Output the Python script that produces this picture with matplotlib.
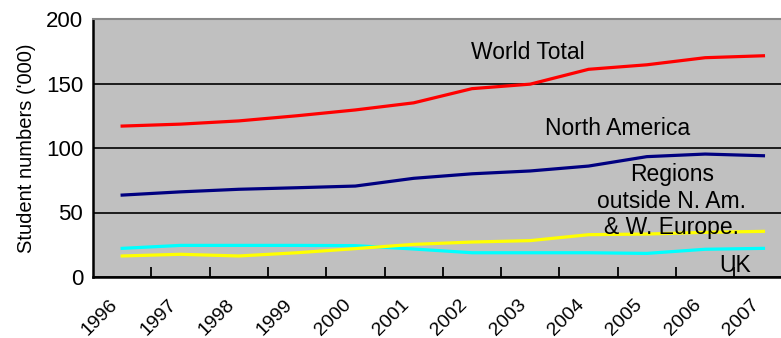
import matplotlib
matplotlib.use("Agg")
import matplotlib.pyplot as plt
import matplotlib.transforms as mtransforms
import numpy as np

plt.rcParams["font.family"] = ["Liberation Sans", "DejaVu Sans"]

years = ["1996", "1997", "1998", "1999", "2000", "2001", "2002", "2003", "2004", "2005", "2006", "2007"]
world_total = [117, 118.5, 121, 125, 129.5, 135, 146, 149.5, 161, 164.5, 170, 171.5]
north_america = [63.5, 66, 68, 69.2, 70.5, 76.5, 80, 82.2, 86, 93.3, 95.3, 94]
regions_outside = [16.3, 17.6, 16.3, 18.8, 22, 25.3, 27.1, 28.2, 32.8, 33.3, 34.6, 35.4]
uk = [22.2, 24.5, 24.5, 24.5, 24.3, 21.7, 18.8, 18.8, 18.8, 18.3, 21.5, 22.2]

W, H = 781, 338
fig = plt.figure(figsize=(W / 100, H / 100), dpi=100)
left, bottom, top = 93, 277, 19
right = 93 + 12 * 58.3
ax = fig.add_axes([left / W, 1 - bottom / H, (right - left) / W, (bottom - top) / H])
ax.set_facecolor("#C0C0C0")

x = np.arange(len(years))
lw = 2.3
ax.plot(x, world_total, color="#FF0000", lw=lw, zorder=3)
ax.plot(x, north_america, color="#000080", lw=lw, zorder=3)
ax.plot(x, uk, color="#00FFFF", lw=lw, zorder=3)
ax.plot(x, regions_outside, color="#FFFF00", lw=lw, zorder=4)

ax.set_xlim(-0.5, len(years) - 0.5)
ax.set_ylim(0, 200)
ax.set_yticks([0, 50, 100, 150, 200])
ax.yaxis.grid(True, color="black", lw=1.2)
ax.set_axisbelow(True)
ax.tick_params(axis="y", length=0, labelsize=16, pad=7)

ax.set_xticks(x)
ax.set_xticklabels(years, rotation=45, ha="right", va="center", rotation_mode="anchor", fontsize=14)
ax.tick_params(axis="x", which="major", length=0, pad=18)
offset = mtransforms.ScaledTranslation(-7 / 100, 0, fig.dpi_scale_trans)
for lbl in ax.get_xticklabels():
    lbl.set_transform(lbl.get_transform() + offset)
ax.set_xticks(np.arange(0.5, len(years) - 0.5, 1), minor=True)
ax.tick_params(axis="x", which="minor", direction="in", length=7, width=1.3, color="black")

for s in ["left", "bottom"]:
    ax.spines[s].set_linewidth(1.8)
    ax.spines[s].set_color("black")
ax.spines["top"].set_color("#888888")
ax.spines["top"].set_linewidth(1.5)
ax.spines["right"].set_visible(False)

ax.set_ylabel("Student numbers ('000)", fontsize=14.5)
ax.yaxis.set_label_coords(-0.082, 0.5)

tk = dict(fontsize=16.5, color="black", ha="center", va="center", zorder=5)
ax.text(6.95, 174.4, "World Total", **tk)
ax.text(8.5, 115.5, "North America", **tk)
ax.text(9.43, 58.9, "Regions\noutside N. Am.\n& W. Europe.", linespacing=1.22, **tk)
ax.text(10.51, 9.3, "UK", **tk)

fig.savefig("out.png", dpi=100)
